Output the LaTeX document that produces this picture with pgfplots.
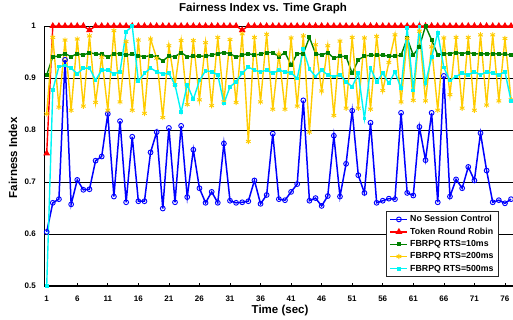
\documentclass[border=0pt]{standalone}
\usepackage{fontspec}
\setmainfont{Liberation Sans}
\usepackage{pgfplots}
\pgfplotsset{compat=1.18}
\definecolor{cblue}{RGB}{0,0,255}
\definecolor{cred}{RGB}{255,0,0}
\definecolor{cgreen}{RGB}{0,128,0}
\definecolor{cyel}{RGB}{255,204,0}
\definecolor{ccyan}{RGB}{0,245,245}
\begin{document}
\begin{tikzpicture}[x=1pt,y=1pt]
\useasboundingbox (-44.3,-34) rectangle (468.7,286);
\begin{axis}[
  at={(0,0)}, anchor=south west,
  scale only axis, width=468.7pt, height=260pt,
  xmin=0.607, xmax=77.32, ymin=0.5, ymax=1,
  axis x line*=bottom, axis y line*=left,
  axis line style={line width=1.4pt, black, -},
  clip=false,
  xtick={1,6,...,76},
  ytick={0.5,0.6,0.7,0.8,0.9,1},
  yticklabels={0.5,0.6,0.7,0.8,0.9,1},
  ymajorgrids, grid style={black, line width=0.8pt},
  ytick style={draw=none},
  xtick style={black, line width=0.6pt},
  major tick length=3pt,
  tick align=inside,
  /pgf/number format/assume math mode=true,
  tick label style={font=\bfseries\fontsize{8}{9}\selectfont},
  yticklabel style={xshift=-5pt},
  xticklabel style={yshift=-6pt},
  title={Fairness Index vs. Time Graph},
  title style={font=\bfseries\fontsize{11.5}{13}\selectfont, at={(axis description cs:0.4666,1)}, anchor=base, yshift=8pt},
  xlabel={Time (sec)},
  xlabel style={font=\bfseries\fontsize{11.5}{13}\selectfont, at={(axis description cs:0.503,0)}, anchor=base, yshift=-28pt},
  ylabel={Fairness Index},
  ylabel style={font=\bfseries\fontsize{11.5}{13}\selectfont, at={(axis description cs:-0.0582,0.493)}, anchor=base},
  legend style={at={(axis description cs:0.970,0.035)}, anchor=south east, draw=black!85, line width=0.7pt, fill=white,
    font=\bfseries\fontsize{8.8}{10}\selectfont, row sep=0.6pt, inner xsep=3pt, inner ysep=2pt},
  legend cell align=left,
]
\addplot[cblue, line width=1.5pt, mark=o, mark size=2.4pt, mark options={solid, line width=0.9pt}] coordinates {
(1,0.604)(2,0.660)(3,0.667)(4,0.935)(5,0.657)(6,0.704)(7,0.685)(8,0.686)(9,0.741)(10,0.749)
(11,0.831)(12,0.672)(13,0.817)(14,0.661)(15,0.787)(16,0.663)(17,0.663)(18,0.757)(19,0.796)(20,0.649)
(21,0.804)(22,0.661)(23,0.808)(24,0.671)(25,0.762)(26,0.688)(27,0.660)(28,0.681)(29,0.660)(30,0.774)
(31,0.664)(32,0.660)(33,0.661)(34,0.663)(35,0.703)(36,0.658)(37,0.675)(38,0.793)(39,0.667)(40,0.665)
(41,0.681)(42,0.696)(43,0.857)(44,0.664)(45,0.669)(46,0.654)(47,0.673)(48,0.789)(49,0.672)(50,0.735)
(51,0.837)(52,0.713)(53,0.679)(54,0.814)(55,0.660)(56,0.664)(57,0.668)(58,0.667)(59,0.833)(60,0.679)
(61,0.674)(62,0.806)(63,0.742)(64,0.833)(65,0.661)(66,0.904)(67,0.672)(68,0.705)(69,0.688)(70,0.729)
(71,0.703)(72,0.794)(73,0.722)(74,0.661)(75,0.665)(76,0.659)(77,0.667)};
\addlegendentry{No Session Control}
\addplot[cred, line width=1.4pt, mark=triangle*, mark size=2.6pt] coordinates {
(1,0.755)(2,1)(3,1)(4,1)(5,1)(6,1)(7,1)(8,0.992)(9,1)(10,1)
(11,1)(12,1)(13,1)(14,1)(15,1)(16,1)(17,1)(18,1)(19,1)(20,1)
(21,1)(22,1)(23,1)(24,1)(25,1)(26,1)(27,1)(28,1)(29,1)(30,1)
(31,1)(32,1)(33,0.992)(34,1)(35,1)(36,1)(37,1)(38,1)(39,1)(40,1)
(41,1)(42,1)(43,1)(44,1)(45,1)(46,1)(47,1)(48,1)(49,1)(50,1)
(51,1)(52,1)(53,1)(54,1)(55,1)(56,1)(57,1)(58,1)(59,1)(60,1)
(61,1)(62,1)(63,1)(64,1)(65,1)(66,1)(67,1)(68,1)(69,1)(70,1)
(71,1)(72,1)(73,1)(74,1)(75,1)(76,1)(77,1)};
\addlegendentry{Token Round Robin}
\addplot[cgreen, line width=1.4pt, mark=square*, mark size=1.3pt] coordinates {
(1,0.906)(2,0.941)(3,0.942)(4,0.947)(5,0.941)(6,0.947)(7,0.944)(8,0.949)(9,0.946)(10,0.946)
(11,0.940)(12,0.947)(13,0.947)(14,0.944)(15,0.946)(16,0.943)(17,0.941)(18,0.943)(19,0.941)(20,0.933)
(21,0.942)(22,0.941)(23,0.949)(24,0.941)(25,0.942)(26,0.942)(27,0.942)(28,0.944)(29,0.947)(30,0.949)
(31,0.947)(32,0.940)(33,0.944)(34,0.947)(35,0.944)(36,0.946)(37,0.949)(38,0.949)(39,0.941)(40,0.949)
(41,0.925)(42,0.947)(43,0.947)(44,0.978)(45,0.947)(46,0.944)(47,0.949)(48,0.938)(49,0.942)(50,0.941)
(51,0.909)(52,0.935)(53,0.942)(54,0.944)(55,0.944)(56,0.944)(57,0.942)(58,0.942)(59,0.944)(60,0.976)
(61,0.944)(62,0.960)(63,1.0)(64,0.973)(65,0.944)(66,0.947)(67,0.947)(68,0.949)(69,0.947)(70,0.949)
(71,0.946)(72,0.947)(73,0.946)(74,0.947)(75,0.946)(76,0.946)(77,0.944)};
\addlegendentry{FBRPQ RTS=10ms}
\addplot[cyel, line width=1.4pt, mark=asterisk, mark size=2.7pt, mark options={line width=0.9pt}] coordinates {
(1,0.831)(2,0.978)(3,0.844)(4,0.973)(5,0.838)(6,0.975)(7,0.846)(8,0.981)(9,0.853)(10,0.940)
(11,0.838)(12,0.991)(13,0.854)(14,0.970)(15,0.838)(16,0.973)(17,0.832)(18,0.975)(19,0.938)(20,0.824)
(21,0.962)(22,0.887)(23,0.972)(24,0.849)(25,0.972)(26,0.858)(27,0.968)(28,0.847)(29,0.978)(30,0.854)
(31,0.974)(32,0.853)(33,0.985)(34,0.778)(35,0.978)(36,0.854)(37,0.984)(38,0.840)(39,0.946)(40,0.840)
(41,0.977)(42,0.846)(43,0.981)(44,0.796)(45,0.964)(46,0.875)(47,0.962)(48,0.828)(49,0.971)(50,0.842)
(51,0.978)(52,0.842)(53,0.977)(54,0.840)(55,0.980)(56,0.876)(57,0.930)(58,0.983)(59,0.854)(60,0.976)
(61,0.857)(62,0.990)(63,0.856)(64,0.960)(65,0.838)(66,0.977)(67,0.868)(68,0.978)(69,0.842)(70,0.978)
(71,0.838)(72,0.983)(73,0.848)(74,0.983)(75,0.856)(76,0.976)(77,0.858)};
\addlegendentry{FBRPQ RTS=200ms}
\addplot[ccyan, line width=1.4pt, mark=square*, mark size=1.2pt] coordinates {
(1,0.500)(2,0.877)(3,0.922)(4,0.924)(5,0.919)(6,0.908)(7,0.919)(8,0.919)(9,0.896)(10,0.915)
(11,0.915)(12,0.908)(13,0.912)(14,0.989)(15,1.0)(16,0.894)(17,0.909)(18,0.919)(19,0.912)(20,0.908)
(21,0.909)(22,0.887)(23,0.834)(24,0.887)(25,0.859)(26,0.895)(27,0.914)(28,0.912)(29,0.906)(30,0.851)
(31,0.883)(32,0.893)(33,0.909)(34,0.921)(35,0.915)(36,0.912)(37,0.915)(38,0.909)(39,0.915)(40,0.912)
(41,0.910)(42,0.899)(43,0.955)(44,0.917)(45,0.903)(46,0.915)(47,0.906)(48,0.903)(49,0.906)(50,0.893)
(51,0.883)(52,0.909)(53,0.822)(54,0.919)(55,0.893)(56,0.909)(57,0.890)(58,0.912)(59,0.880)(60,0.996)
(61,0.876)(62,0.999)(63,0.890)(64,0.940)(65,0.987)(66,0.920)(67,0.895)(68,0.903)(69,0.909)(70,0.906)
(71,0.912)(72,0.906)(73,0.912)(74,0.909)(75,0.906)(76,0.912)(77,0.856)};
\addlegendentry{FBRPQ RTS=500ms}
\end{axis}
\end{tikzpicture}
\end{document}
